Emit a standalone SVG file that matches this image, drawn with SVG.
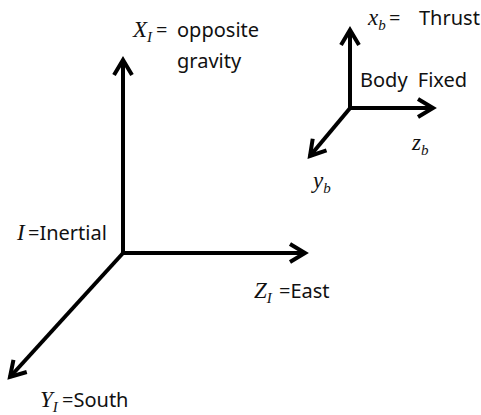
<svg xmlns="http://www.w3.org/2000/svg" width="481" height="415" viewBox="0 0 481 415">
<defs>
<style>
.ax{stroke:#000;stroke-width:4;fill:none;stroke-linecap:butt}
.lbl{font-family:"Noto Sans","Open Sans",sans-serif;font-size:20px;fill:#111}
.m{font-family:"Liberation Serif","DejaVu Serif",serif;font-style:italic;font-size:23px}
.s{font-family:"Liberation Serif","DejaVu Serif",serif;font-style:italic;font-size:15px}
</style>
<marker id="ah" markerUnits="userSpaceOnUse" markerWidth="30" markerHeight="30" viewBox="-20 -15 30 30" refX="0" refY="0" orient="auto">
<path d="M-15,-9 L0,0 L-15,9" fill="none" stroke="#000" stroke-width="4" stroke-linejoin="miter"/>
</marker>
</defs>
<rect width="481" height="415" fill="#fff"/>
<g id="connectors">
<line class="ax" x1="123" y1="255" x2="123" y2="60" marker-end="url(#ah)"/>
<line class="ax" x1="121" y1="253" x2="305" y2="253" marker-end="url(#ah)"/>
<line class="ax" x1="124" y1="252" x2="10" y2="377" marker-end="url(#ah)"/>
<line class="ax" x1="350" y1="110" x2="350" y2="30" marker-end="url(#ah)"/>
<line class="ax" x1="348" y1="108" x2="433" y2="108" marker-end="url(#ah)"/>
<line class="ax" x1="351" y1="107" x2="310" y2="156" marker-end="url(#ah)"/>
</g>
<g id="node-XI">
<text class="lbl" x="133" y="37"><tspan class="m">X</tspan><tspan class="s" dy="5">I</tspan><tspan dy="-5" x="156">=</tspan><tspan x="177">opposite</tspan></text>
<text class="lbl" x="177" y="68">gravity</text>
</g>
<g id="node-xb">
<text class="lbl" x="368" y="25"><tspan class="m">x</tspan><tspan class="s" dy="5">b</tspan><tspan dy="-5" x="389">=</tspan><tspan x="419">Thrust</tspan></text>
</g>
<g id="node-body">
<text class="lbl" x="360" y="87" word-spacing="5">Body Fixed</text>
</g>
<g id="node-zb">
<text class="lbl" x="412" y="150"><tspan class="m">z</tspan><tspan class="s" dy="5">b</tspan></text>
</g>
<g id="node-yb">
<text class="lbl" x="313" y="188"><tspan class="m">y</tspan><tspan class="s" dy="5">b</tspan></text>
</g>
<g id="node-I">
<text class="lbl" x="17" y="240"><tspan class="m">I</tspan><tspan x="28">=Inertial</tspan></text>
</g>
<g id="node-ZI">
<text class="lbl" x="254" y="298"><tspan class="m">Z</tspan><tspan class="s" dy="5">I</tspan><tspan dy="-5" x="279">=East</tspan></text>
</g>
<g id="node-YI">
<text class="lbl" x="40" y="407"><tspan class="m">Y</tspan><tspan class="s" dy="5">I</tspan><tspan dy="-5" x="62">=South</tspan></text>
</g>
</svg>
